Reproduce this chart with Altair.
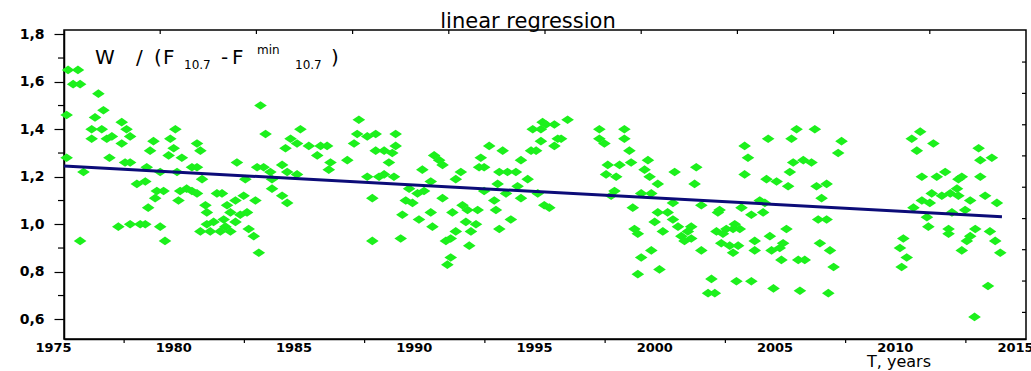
import altair as alt
import pandas as pd

# ---- observations, grouped by period: decimal year and normalised ratio ----
years_a = [
    1975.17, 1975.58, 1975.38, 1975.67, 1976.43, 1975.11, 1976.64, 1976.29, 1977.40, 1976.15,
    1976.57, 1977.60, 1977.75, 1976.15, 1976.78, 1976.99, 1977.40, 1975.11, 1976.89, 1977.54,
    1977.75, 1975.81, 1978.03, 1978.38, 1978.44, 1978.72, 1978.58, 1979.42, 1979.63, 1979.56,
    1979.35, 1979.90, 1979.00, 1979.70, 1980.32, 1980.53, 1980.53, 1980.67, 1980.74, 1978.86,
    1979.14, 1978.79, 1979.83, 1980.10, 1980.32, 1980.53, 1979.76, 1978.50, 1980.88, 1981.36,
    1980.94, 1981.22, 1980.94, 1980.67, 1981.08, 1981.50, 1977.26, 1977.75, 1978.17, 1978.38,
    1979.00, 1979.20, 1975.67,
]
values_a = [
    1.65, 1.65, 1.59, 1.59, 1.55, 1.46, 1.48, 1.45, 1.43, 1.40,
    1.40, 1.40, 1.37, 1.36, 1.36, 1.37, 1.34, 1.28, 1.28, 1.26,
    1.26, 1.22, 1.17, 1.18, 1.24, 1.35, 1.31, 1.36, 1.40, 1.32,
    1.29, 1.28, 1.22, 1.22, 1.24, 1.24, 1.34, 1.31, 1.19, 1.14,
    1.14, 1.11, 1.14, 1.15, 1.14, 1.13, 1.10, 1.07, 1.08, 1.13,
    1.05, 1.01, 1.00, 0.97, 0.97, 0.97, 0.99, 1.00, 1.00, 1.00,
    0.99, 0.93, 0.93,
]

years_b = [
    1983.17, 1983.38, 1984.83, 1984.42, 1984.69, 1984.21, 1985.18, 1985.67, 1985.94, 1985.53,
    1986.08, 1986.01, 1986.78, 1987.26, 1987.19, 1987.61, 1987.96, 1987.06, 1987.96, 1982.19,
    1983.03, 1983.30, 1983.58, 1984.07, 1984.28, 1984.69, 1983.65, 1982.54, 1987.61, 1988.10,
    1987.82, 1987.82, 1983.65, 1984.07, 1984.28, 1981.57, 1981.78, 1982.13, 1982.47, 1982.96,
    1981.92, 1982.33, 1982.61, 1981.64, 1982.13, 1981.71, 1981.92, 1982.68, 1982.89, 1983.10,
]
values_b = [
    1.50, 1.38, 1.40, 1.36, 1.34, 1.32, 1.33, 1.33, 1.33, 1.29,
    1.26, 1.23, 1.27, 1.44, 1.38, 1.37, 1.38, 1.34, 1.31, 1.26,
    1.24, 1.24, 1.22, 1.25, 1.22, 1.21, 1.19, 1.19, 1.20, 1.20,
    1.11, 0.93, 1.15, 1.12, 1.09, 1.13, 1.08, 1.10, 1.12, 1.10,
    1.05, 1.04, 1.05, 1.02, 1.01, 0.99, 0.97, 0.98, 0.95, 0.88,
]

years_c = [
    1988.79, 1988.79, 1988.31, 1988.65, 1988.51, 1988.31, 1988.72, 1989.90, 1990.39, 1990.60,
    1990.74, 1991.50, 1991.29, 1990.25, 1989.35, 1989.70, 1989.97, 1989.21, 1989.49, 1990.74,
    1989.07, 1989.76, 1990.25, 1989.00, 1990.32, 1991.15, 1991.57, 1991.78, 1992.20, 1991.71,
    1992.13, 1991.29, 1991.92, 1990.88, 1991.08, 1991.85, 1991.08, 1990.94, 1992.33, 1992.47,
    1992.68, 1992.26, 1993.24, 1993.10, 1993.44, 1993.79, 1994.00, 1994.28, 1993.03, 1992.47,
    1993.38, 1992.89, 1992.96, 1994.00, 1993.58, 1993.10, 1993.86, 1994.49, 1994.83, 1994.90,
    1994.42, 1994.63, 1994.83, 1994.70, 1994.97,
]
values_c = [
    1.38, 1.33, 1.31, 1.30, 1.26, 1.21, 1.20, 1.23, 1.29, 1.27,
    1.25, 1.22, 1.19, 1.18, 1.15, 1.13, 1.14, 1.10, 1.09, 1.11,
    1.04, 1.02, 1.05, 0.94, 0.99, 1.05, 1.08, 1.06, 1.06, 1.01,
    1.00, 0.97, 0.97, 0.93, 0.94, 0.91, 0.86, 0.83, 1.28, 1.24,
    1.33, 1.24, 1.31, 1.22, 1.22, 1.22, 1.27, 1.19, 1.17, 1.14,
    1.13, 1.10, 1.06, 1.11, 1.02, 0.98, 1.16, 1.40, 1.40, 1.43,
    1.31, 1.31, 1.35, 1.13, 1.08,
]

years_d = [
    1995.04, 1995.39, 1995.53, 1995.94, 1995.39, 1995.67, 1995.18, 1997.26, 1997.26, 1997.47,
    1998.30, 1998.30, 1998.51, 1997.61, 1998.10, 1998.58, 1997.54, 1997.96, 1999.28, 1999.14,
    1999.35, 1999.69, 1997.89, 1997.75, 1999.00, 1999.42, 1998.65, 2000.39, 2001.29, 2001.22,
    2000.32, 2001.50, 1999.69, 2000.10, 2000.32, 1999.56, 1998.72, 1998.86, 1999.90, 2000.67,
    2000.94, 2001.08, 2000.53, 2000.80, 2001.08, 2001.50, 1999.42, 1999.00, 1998.86, 1999.76,
]
values_d = [
    1.42, 1.42, 1.36, 1.44, 1.33, 1.36, 1.07, 1.40, 1.36, 1.34,
    1.40, 1.36, 1.31, 1.25, 1.25, 1.26, 1.21, 1.20, 1.27, 1.23,
    1.20, 1.17, 1.14, 1.12, 1.13, 1.13, 1.07, 1.22, 1.24, 1.17,
    1.09, 1.08, 1.05, 1.05, 1.02, 1.01, 0.98, 0.96, 0.97, 0.95,
    0.97, 0.99, 0.99, 0.93, 0.94, 0.89, 0.89, 0.86, 0.79, 0.81,
]

years_e = [
    2002.26, 2002.19, 2003.17, 2003.58, 2004.07, 2003.30, 2003.44, 2003.30, 2004.28, 2005.46,
    2006.22, 2005.25, 2007.33, 2007.19, 2005.32, 2005.74, 2006.08, 2005.18, 2004.21, 2004.63,
    2005.11, 2006.29, 2006.71, 2006.50, 2003.93, 2004.14, 2006.36, 2006.71, 2002.89, 2002.54,
    2002.82, 2003.10, 2002.13, 2002.40, 2005.04, 2002.33, 2002.68, 2003.03, 2002.82, 2003.72,
    2004.35, 2004.90, 2003.72, 2004.42, 2004.76, 2006.43, 2006.85, 2004.83, 2005.53, 2005.80,
    2007.00, 2001.92, 2001.78, 2002.06, 2002.96, 2003.58, 2004.50, 2005.60, 2006.78,
]
values_e = [
    1.06, 1.05, 1.07, 1.04, 1.05, 1.33, 1.28, 1.21, 1.36, 1.40,
    1.40, 1.36, 1.35, 1.30, 1.26, 1.27, 1.26, 1.22, 1.19, 1.18,
    1.16, 1.16, 1.17, 1.11, 1.10, 1.09, 1.02, 1.02, 1.00, 0.98,
    0.98, 0.98, 0.97, 0.96, 0.98, 0.92, 0.91, 0.91, 0.88, 0.93,
    0.95, 0.92, 0.89, 0.89, 0.90, 0.92, 0.89, 0.85, 0.85, 0.85,
    0.82, 0.77, 0.71, 0.71, 0.76, 0.76, 0.73, 0.72, 0.71,
]

years_f = [
    2010.60, 2010.25, 2011.15, 2010.46, 2013.03, 2013.10, 2013.58, 2011.64, 2011.29, 2010.67,
    2012.33, 2012.19, 2013.10, 2011.08, 2011.50, 2011.85, 2012.13, 2012.19, 2010.67, 2011.00,
    2010.32, 2012.68, 2013.30, 2012.47, 2013.79, 2010.88, 2011.92, 2010.94, 2011.78, 2011.78,
    2012.89, 2012.68, 2012.54, 2013.50, 2013.72, 2012.33, 2013.93, 2009.90, 2009.76, 2010.04,
    2009.83, 2013.42, 2012.86,
]
values_f = [
    1.39, 1.36, 1.34, 1.31, 1.32, 1.27, 1.28, 1.22, 1.20, 1.20,
    1.20, 1.19, 1.20, 1.13, 1.12, 1.13, 1.15, 1.12, 1.10, 1.09,
    1.07, 1.10, 1.12, 1.06, 1.09, 1.03, 1.05, 0.99, 0.98, 0.96,
    0.98, 0.95, 0.93, 0.97, 0.93, 0.89, 0.88, 0.94, 0.90, 0.86,
    0.82, 0.74, 0.61,
]

# ---- fitted trend line (end points) ----
fit_years = [1975.0, 2014.0]
fit_values = [1.245, 1.032]

# ---- axis ticks ----
x_label_years = [1975, 1980, 1985, 1990, 1995, 2000, 2005, 2010, 2015]
x_minor_years = [1977.5, 1982.5, 1987.5, 1992.5, 1997.5, 2002.5, 2007.5, 2012.5]
y_label_values = [0.6, 0.8, 1.0, 1.2, 1.4, 1.6, 1.8]
y_minor_values = [0.7, 0.9, 1.1, 1.3, 1.5, 1.7]
top_tick_years = [1979, 1983, 1987, 1991, 1995, 1999, 2003, 2007, 2011]
right_tick_values = [0.629, 0.761, 0.893, 1.024, 1.156, 1.288, 1.419, 1.551, 1.683]

years = years_a + years_b + years_c + years_d + years_e + years_f
values = values_a + values_b + values_c + values_d + values_e + values_f
points_df = pd.DataFrame({"year": years, "value": values})
fit_df = pd.DataFrame({"year": fit_years, "value": fit_values})

GREEN = "#1cf01c"
NAVY = "#0c0c78"
DIAMOND = "M-1,0L0,-0.68L1,0L0,0.68Z"
FONT = "DejaVu Sans"
PLOT_W, PLOT_H = 962, 309

x_scale = alt.Scale(domain=[1975, 2015], nice=False, zero=False)
y_scale = alt.Scale(domain=[0.517, 1.818], nice=False, zero=False)

x_axis = alt.Axis(
    values=x_label_years,
    ticks=False,
    format="d",
    labelFontSize=13,
    labelPadding=2,
    labelOffset=-11,
    labelFlush=False,
    labelOverlap=False,
    domainWidth=1.5,
    title=None,
)
y_axis = alt.Axis(
    values=y_label_values,
    tickSize=10,
    labelExpr="replace(format(datum.value, '.1f'), '.', ',')",
    labelPadding=10,
    labelOverlap=False,
    domainWidth=1.5,
    title=None,
)

X = lambda f: alt.X(f"{f}:Q", scale=x_scale, axis=x_axis)
Y = lambda f: alt.Y(f"{f}:Q", scale=y_scale, axis=y_axis)

points = alt.Chart(points_df).mark_point(
    shape=DIAMOND, filled=True, size=160, color=GREEN, opacity=1, strokeWidth=0
).encode(x=X("year"), y=Y("value"))

trend = alt.Chart(fit_df).mark_line(color=NAVY, strokeWidth=3).encode(
    x=X("year"), y=Y("value")
)

tick_style = dict(color="black", strokeWidth=1.2)

# short minor ticks: below the bottom edge, left of the left edge
minor_x = alt.Chart(pd.DataFrame({"year": x_minor_years})).mark_rule(**tick_style).encode(
    x=X("year"), y=alt.value(PLOT_H), y2=alt.value(PLOT_H + 4)
)
minor_y = alt.Chart(pd.DataFrame({"value": y_minor_values})).mark_rule(**tick_style).encode(
    y=Y("value"), x=alt.value(-6), x2=alt.value(0)
)
# inward ticks on the top and right edges of the frame
top_ticks = alt.Chart(pd.DataFrame({"year": top_tick_years})).mark_rule(**tick_style).encode(
    x=X("year"), y=alt.value(0), y2=alt.value(4)
)
right_ticks = alt.Chart(pd.DataFrame({"value": right_tick_values})).mark_rule(**tick_style).encode(
    y=Y("value"), x=alt.value(PLOT_W - 4), x2=alt.value(PLOT_W)
)


def text_at(text, x, y, size, align="left"):
    return alt.Chart(alt.Data(values=[{}])).mark_text(
        text=text, font=FONT, fontSize=size, color="black",
        align=align, baseline="alphabetic",
    ).encode(x=alt.value(x), y=alt.value(y))


texts = [
    text_at("linear regression", 464, -2, 21, align="center"),
    text_at("T, years", 803, 337, 16),
    # W / (F_10.7 - F^min_10.7)
    text_at("W", 31, 34, 20),
    text_at("/", 72, 34, 20),
    text_at("(", 90, 34, 20),
    text_at("F", 99, 34, 20),
    text_at("10.7", 120, 39, 12),
    text_at("-", 157, 34, 20),
    text_at("F", 168, 34, 20),
    text_at("min", 193, 24, 12),
    text_at("10.7", 231, 39, 12),
    text_at(")", 267, 34, 20),
]

chart = alt.layer(
    points, trend, minor_x, minor_y, top_ticks, right_ticks, *texts
).properties(
    width=PLOT_W,
    height=PLOT_H,
    padding={"left": 64, "top": 30, "right": 5, "bottom": 32},
    autosize=alt.AutoSizeParams(type="none"),
).configure(
    background="white"
).configure_view(
    stroke="black", strokeWidth=1.5
).configure_axis(
    grid=False,
    labelFont=FONT,
    labelFontSize=14,
    labelFontWeight="bold",
    labelColor="black",
    domainColor="black",
    tickColor="black",
    tickWidth=1.2,
)

chart.save("out.html", embed_options={"renderer": "svg", "actions": False})
